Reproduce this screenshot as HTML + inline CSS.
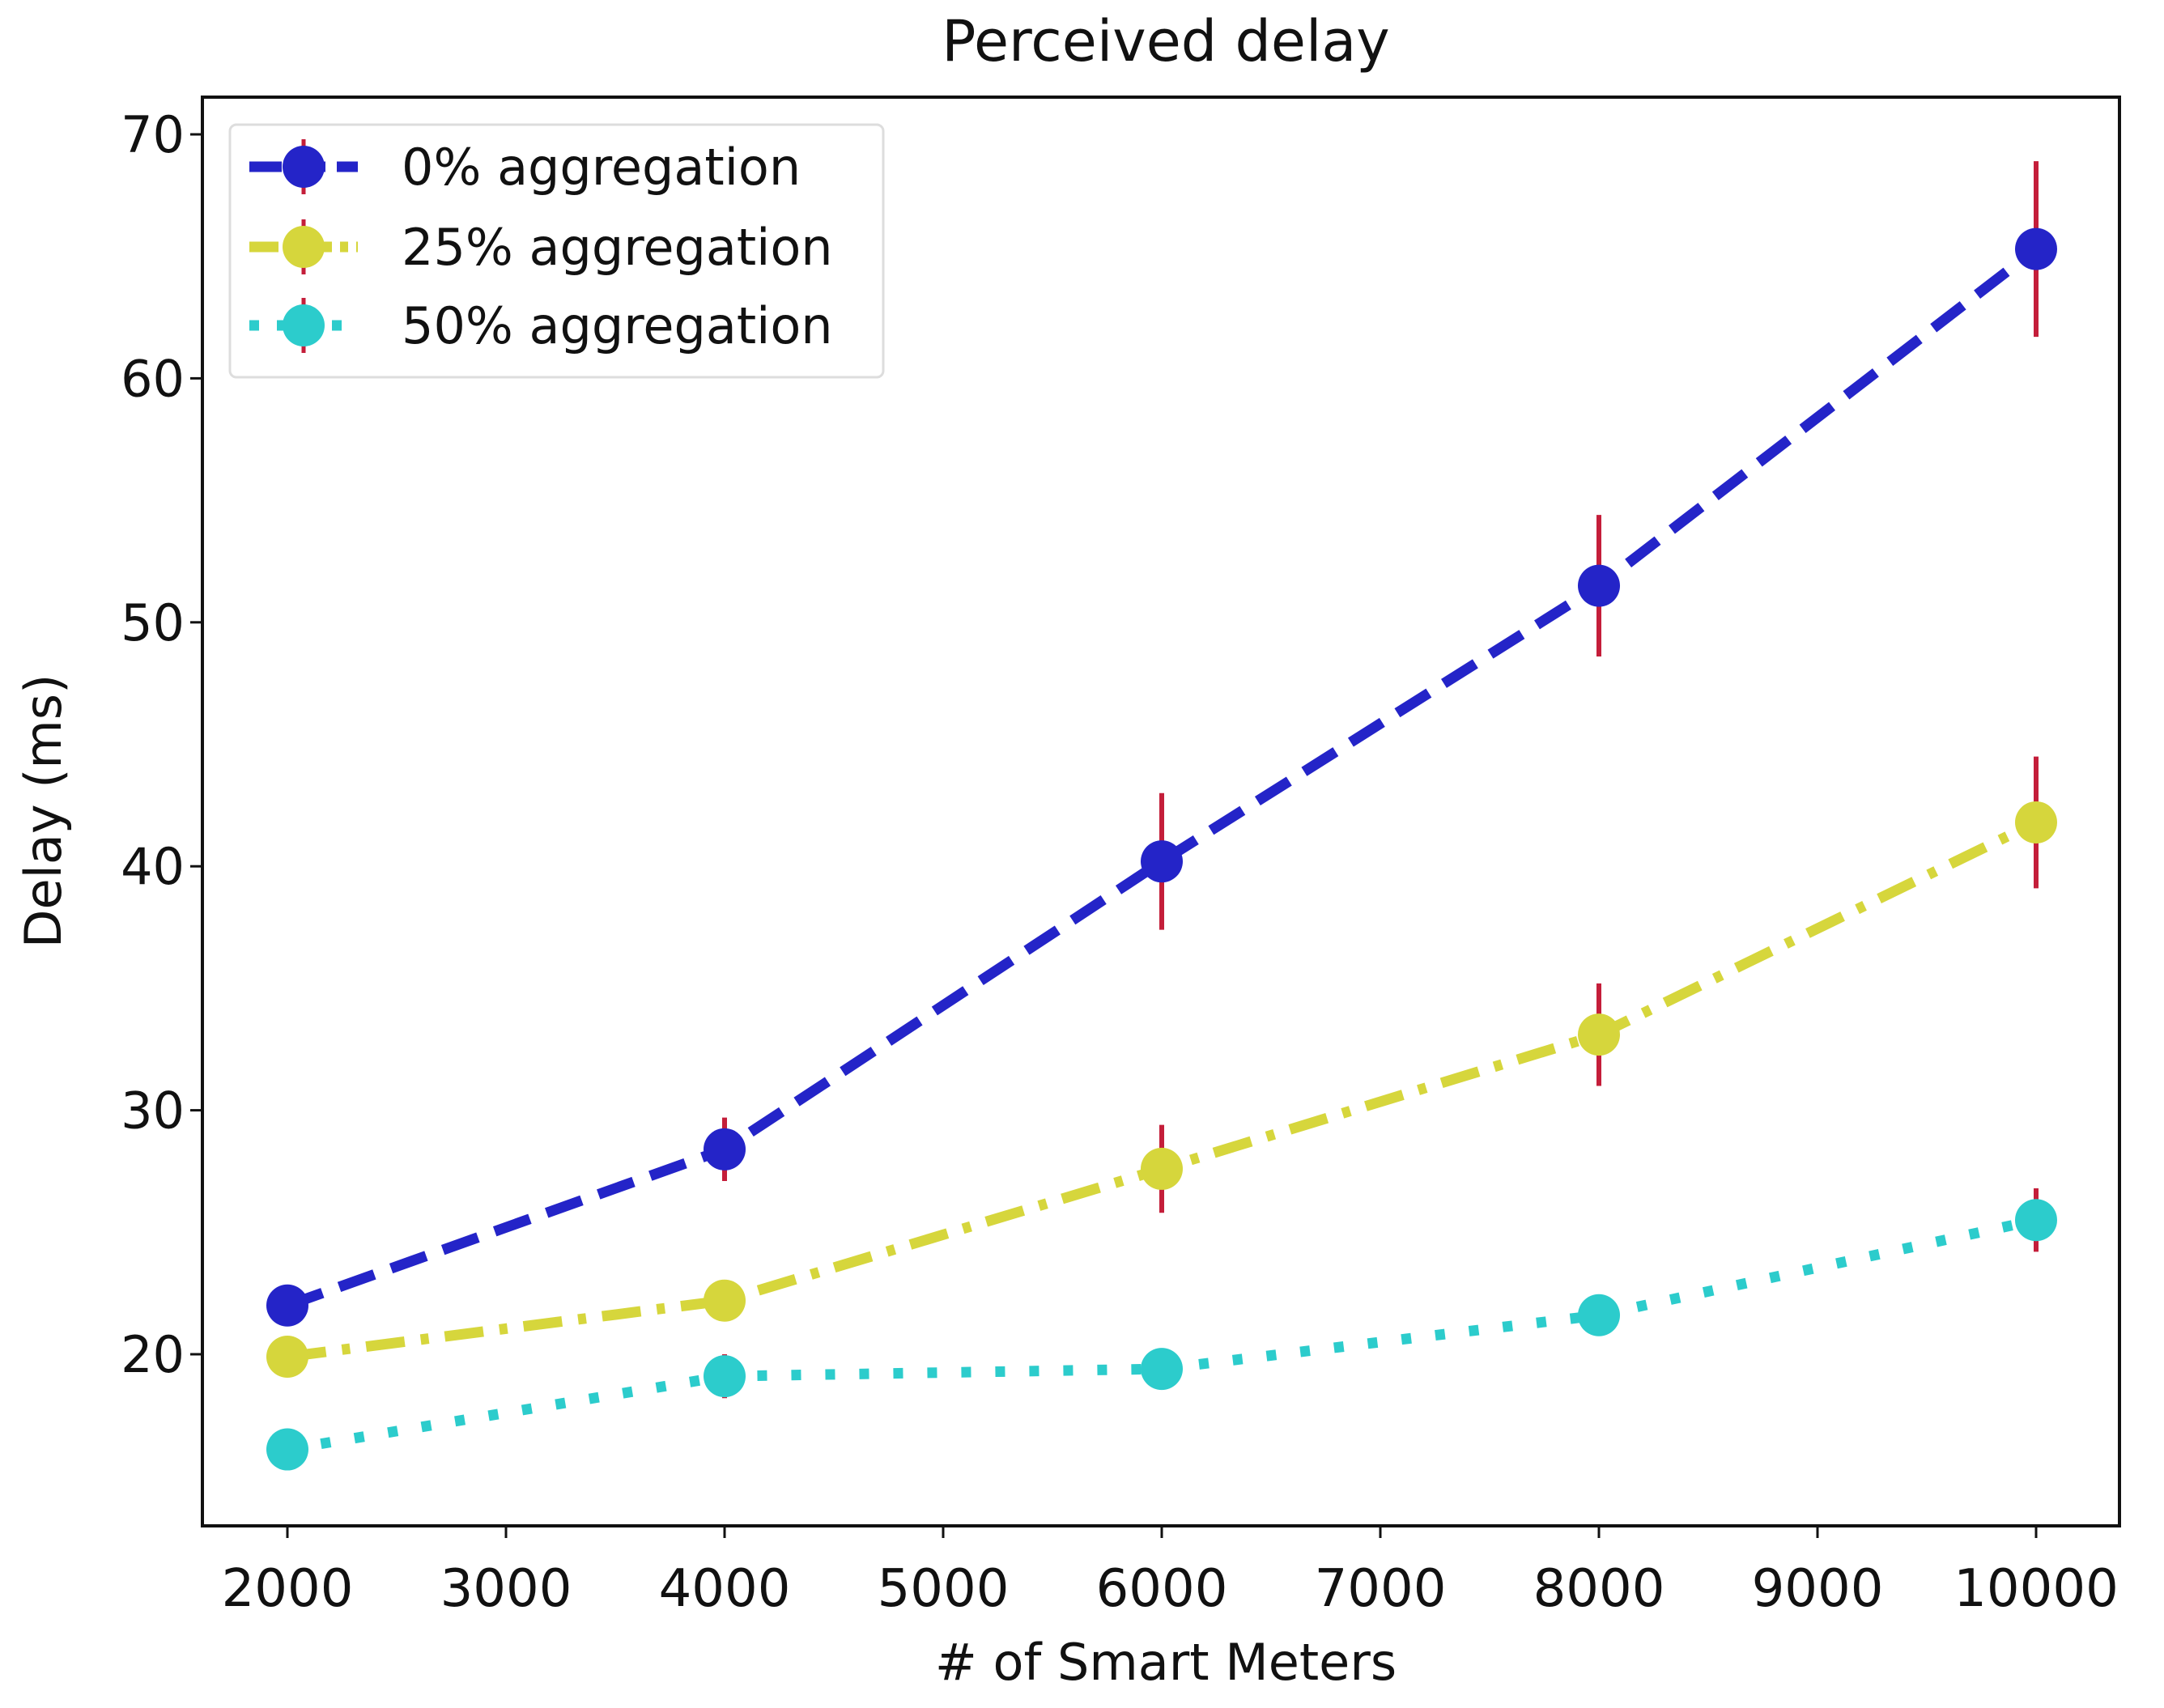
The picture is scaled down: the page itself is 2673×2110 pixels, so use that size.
<!DOCTYPE html>
<html><head><meta charset="utf-8"><style>
html,body{margin:0;padding:0;background:#fff;}
svg{display:block;font-family:"DejaVu Sans","Liberation Sans",sans-serif;}
</style></head><body>
<svg id="chart" width="2673" height="2110" viewBox="0 0 2673 2110" xmlns="http://www.w3.org/2000/svg">
<rect x="0" y="0" width="2673" height="2110" fill="#fff"/>
<text x="1440" y="75" font-size="70" text-anchor="middle" fill="#111">Perceived delay</text>
<g id="series"></g>
<rect x="250" y="120" width="2368" height="1765" fill="none" stroke="#111" stroke-width="4"/>
<g id="axes"></g>
<text x="1440" y="2075" font-size="62" text-anchor="middle" fill="#111"># of Smart Meters</text>
<text transform="translate(75,1002) rotate(-90)" font-size="62" text-anchor="middle" fill="#111">Delay (ms)</text>
<g id="legend">
<rect x="284" y="154" width="807" height="312" rx="8" fill="#fff" stroke="#ddd" stroke-width="3"/>
</g>
</svg>
<script>
const xCategories = [2000, 4000, 6000, 8000, 10000];
const seriesNames = ["0% aggregation", "25% aggregation", "50% aggregation"];
const values0 = [22.0, 28.4, 40.2, 51.5, 65.3];
const errors0 = [0.8, 1.3, 2.8, 2.9, 3.6];
const values25 = [19.9, 22.2, 27.6, 33.1, 41.8];
const errors25 = [0.5, 0.8, 1.8, 2.1, 2.7];
const values50 = [16.1, 19.1, 19.4, 21.6, 25.5];
const errors50 = [0.6, 0.9, 0.7, 0.8, 1.3];
const xTicks = [2000, 3000, 4000, 5000, 6000, 7000, 8000, 9000, 10000];
const yTicks = [20, 30, 40, 50, 60, 70];

const NS = "http://www.w3.org/2000/svg";
function xs(v){ return 355 + (v - 2000) * (2515 - 355) / 8000; }
function ys(v){ return 166 + (70 - v) * 30.14; }
function mk(tag, attrs, parent){
  const e = document.createElementNS(NS, tag);
  for (const k in attrs) e.setAttribute(k, attrs[k]);
  parent.appendChild(e); return e;
}
const axes = document.getElementById('axes');
xTicks.forEach(t => {
  const g = mk('g', {}, axes);
  
  
  mk('line', {x1: xs(t), x2: xs(t), y1: 1885, y2: 1900, stroke: '#111', 'stroke-width': 3}, g);
  const tx = mk('text', {x: xs(t), y: 1984, 'font-size': 64, 'text-anchor': 'middle', fill: '#111'}, g);
  tx.textContent = t;
});
yTicks.forEach(t => {
  const g = mk('g', {}, axes);
  
  
  mk('line', {x1: 235, x2: 250, y1: ys(t), y2: ys(t), stroke: '#111', 'stroke-width': 3}, g);
  const tx = mk('text', {x: 228, y: ys(t) + 22, 'font-size': 62, 'text-anchor': 'end', fill: '#111'}, g);
  tx.textContent = t;
});

const styles = [
  {vals: values0, errs: errors0, color: '#2424c8', dash: '46 22', name: 'series-0pct'},
  {vals: values25, errs: errors25, color: '#d6d63c', dash: '48 20 10 20', name: 'series-25pct'},
  {vals: values50, errs: errors50, color: '#2ccccc', dash: '12 30', name: 'series-50pct'}
];
const sg = document.getElementById('series');
styles.forEach(s => {
  const g = mk('g', {}, sg);
  
  
  const pts = xCategories.map((x, i) => xs(x) + ',' + ys(s.vals[i])).join(' ');
  const pl = mk('polyline', {points: pts, fill: 'none', stroke: s.color, 'stroke-width': 13, 'stroke-dasharray': s.dash}, g);
  
  
  xCategories.forEach((x, i) => {
    const eb = mk('line', {x1: xs(x), x2: xs(x), y1: ys(s.vals[i] + s.errs[i]), y2: ys(s.vals[i] - s.errs[i]), stroke: '#c41e3a', 'stroke-width': 6}, g);
    
    
    const c = mk('circle', {cx: xs(x), cy: ys(s.vals[i]), r: 26, fill: s.color}, g);
    
    
  });
});

const lg = document.getElementById('legend');
const legendY = [206, 305, 402];
const legendDash = ['40 14', '36 10 10 10', '12 22'];
styles.forEach((s, i) => {
  const g = mk('g', {}, lg);
  
  
  mk('line', {x1: 308, x2: 442, y1: legendY[i], y2: legendY[i], stroke: s.color, 'stroke-width': 13, 'stroke-dasharray': legendDash[i]}, g);
  mk('line', {x1: 375, x2: 375, y1: legendY[i] - 34, y2: legendY[i] + 34, stroke: '#c41e3a', 'stroke-width': 5}, g);
  mk('circle', {cx: 375, cy: legendY[i], r: 26, fill: s.color}, g);
  const t = mk('text', {x: 496, y: legendY[i] + 22, 'font-size': 62, fill: '#111'}, g);
  t.textContent = seriesNames[i];
});
</script>
</body></html>
